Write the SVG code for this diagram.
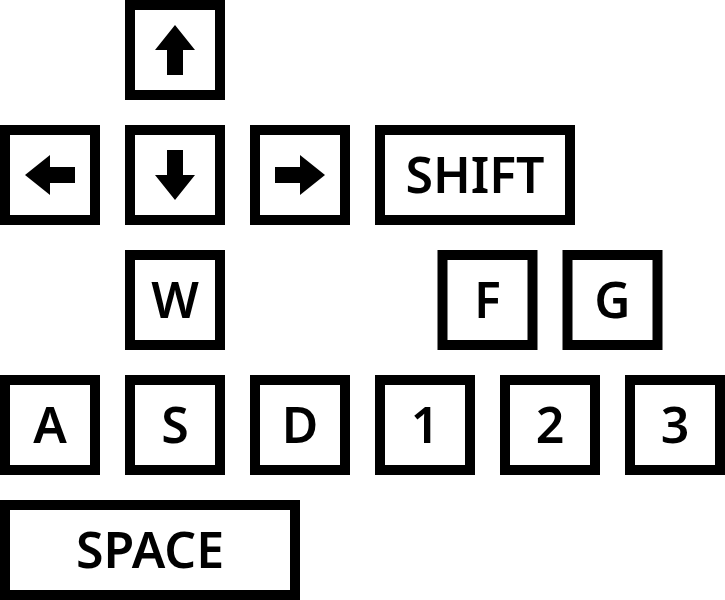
<svg xmlns="http://www.w3.org/2000/svg" width="725" height="600" viewBox="0 0 725 600">
<style>
.key{fill:#fff;stroke:#000;stroke-width:10}
.lbl{font-family:"Noto Sans","Open Sans",sans-serif;font-weight:600;font-size:50px;fill:#000;text-anchor:middle}
.arr{fill:#000}
</style>
<rect width="725" height="600" fill="#fff"/>
<g id="connectors"></g>
<g id="key-up"><rect class="key" x="130" y="5" width="90" height="90"/><polygon class="arr" points="175,25 195,50 183,50 183,75 167,75 167,50 155,50"/></g>
<g id="key-left"><rect class="key" x="5" y="130" width="90" height="90"/><polygon class="arr" points="25,175 50,155 50,167 75,167 75,183 50,183 50,195"/></g>
<g id="key-down"><rect class="key" x="130" y="130" width="90" height="90"/><polygon class="arr" points="175,200 195,175 183,175 183,150 167,150 167,175 155,175"/></g>
<g id="key-right"><rect class="key" x="255" y="130" width="90" height="90"/><polygon class="arr" points="325,175 300,155 300,167 275,167 275,183 300,183 300,195"/></g>
<g id="key-shift"><rect class="key" x="380" y="130" width="190" height="90"/><text class="lbl" x="475" y="193">SHIFT</text></g>
<g id="key-w"><rect class="key" x="130" y="255" width="90" height="90"/><text class="lbl" x="175" y="318">W</text></g>
<g id="key-f"><rect class="key" x="442.5" y="255" width="90" height="90"/><text class="lbl" x="487.5" y="318">F</text></g>
<g id="key-g"><rect class="key" x="567.5" y="255" width="90" height="90"/><text class="lbl" x="612.5" y="318">G</text></g>
<g id="key-a"><rect class="key" x="5" y="380" width="90" height="90"/><text class="lbl" x="50" y="443">A</text></g>
<g id="key-s"><rect class="key" x="130" y="380" width="90" height="90"/><text class="lbl" x="175" y="443">S</text></g>
<g id="key-d"><rect class="key" x="255" y="380" width="90" height="90"/><text class="lbl" x="300" y="443">D</text></g>
<g id="key-1"><rect class="key" x="380" y="380" width="90" height="90"/><text class="lbl" x="425" y="443">1</text></g>
<g id="key-2"><rect class="key" x="505" y="380" width="90" height="90"/><text class="lbl" x="550" y="443">2</text></g>
<g id="key-3"><rect class="key" x="630" y="380" width="90" height="90"/><text class="lbl" x="675" y="443">3</text></g>
<g id="key-space"><rect class="key" x="5" y="505" width="290" height="90"/><text class="lbl" x="150" y="568">SPACE</text></g>
</svg>
